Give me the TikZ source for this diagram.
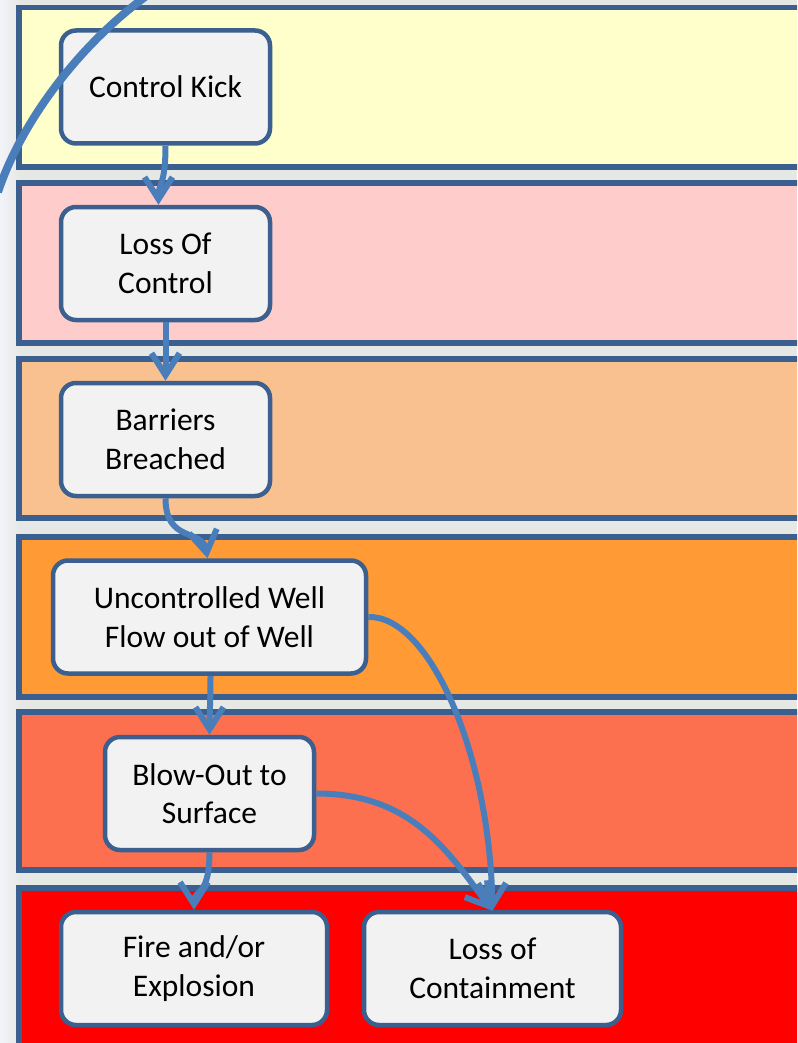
\documentclass[tikz,border=0pt]{standalone}
\usepackage{fontspec}
\setmainfont{Carlito}
\usetikzlibrary{arrows.meta,calc}
\definecolor{bordercol}{HTML}{3B5F8E}
\definecolor{arrowcol}{HTML}{4A7EBB}
\definecolor{boxfill}{HTML}{F2F2F2}
\definecolor{bgcol}{HTML}{E6E8E6}
\definecolor{bandA}{HTML}{FFFFCC}
\definecolor{bandB}{HTML}{FFCCCC}
\definecolor{bandC}{HTML}{F9C18F}
\definecolor{bandD}{HTML}{FF9A35}
\definecolor{bandE}{HTML}{FC7050}
\definecolor{bandF}{HTML}{FF0000}
\begin{document}
\begin{tikzpicture}[x=1pt,y=-1pt,
  band/.style={draw=bordercol,line width=5.5pt},
  box/.style={draw=bordercol,line width=4.5pt,fill=boxfill,rounded corners=15pt,
    minimum height=113pt,align=center,inner sep=0pt,
    font=\fontsize{31.5}{38.5}\selectfont},
  arr/.style={draw=arrowcol,line width=6pt,
    -{Straight Barb[length=22pt,width=28pt,line width=6pt]}},
  bigarc/.style={draw=arrowcol,line width=8pt}]
\useasboundingbox (0,0) rectangle (797,1043);
\clip (0,0) rectangle (797,1043);
\fill[bgcol] (0,0) rectangle (797,1043);
\shade[left color=white!85!blue!20,right color=bgcol,opacity=0.8] (0,0) rectangle (20,1043);
% bands
\path[band,fill=bandA] (19,7.5) rectangle (810,167);
\path[band,fill=bandB] (19,183) rectangle (810,343);
\path[band,fill=bandC] (19,359) rectangle (810,518);
\path[band,fill=bandD] (19,537) rectangle (810,697);
\path[band,fill=bandE] (19,712) rectangle (810,870);
\path[band,fill=bandF] (19,888) rectangle (810,1070);
% nodes
\node[box,minimum width=209pt] (ck) at (165.5,87) {Control Kick};
\node[box,minimum width=209pt] (lo) at (165.5,263.5) {Loss Of\\Control};
\node[box,minimum width=209pt] (bb) at (165.5,439.5) {Barriers\\Breached};
\node[box,minimum width=313pt] (uc) at (209.5,617) {Uncontrolled Well\\Flow out of Well};
\node[box,minimum width=209pt] (bo) at (209.5,793.5) {Blow-Out to\\Surface};
\node[box,minimum width=266pt] (fe) at (194,968.5) {Fire and/or\\Explosion};
\node[box,minimum width=257pt] (lc) at (492.5,968.5) {Loss of\\Containment};
% connectors
\draw[arr] (ck.south) .. controls +(0,40) and +(0,-22) .. ([xshift=-7pt]lo.north);
\draw[arr] (lo.south) .. controls +(0,30) and +(0,-25) .. (bb.north);
\draw[arr] (bb.south) .. controls +(0,45) and +(-5,-30) .. ([xshift=-2pt]uc.north);
\draw[arr] ([xshift=1pt]uc.south) .. controls +(0,30) and +(0,-25) .. (bo.north);
\draw[arr] (bo.south) .. controls +(0,45) and +(0,-20) .. (fe.north);
\draw[arr] (uc.east) .. controls +(60,-2) and +(-3,-160) .. ([yshift=-1pt]lc.north);
\draw[arr] (bo.east) .. controls +(95,0) and +(-45,-60) .. ([yshift=-1pt]lc.north);
% big arc
\draw[bigarc] (145,-3) .. controls (80,45) and (22,120) .. (-2,192);
\end{tikzpicture}
\end{document}
